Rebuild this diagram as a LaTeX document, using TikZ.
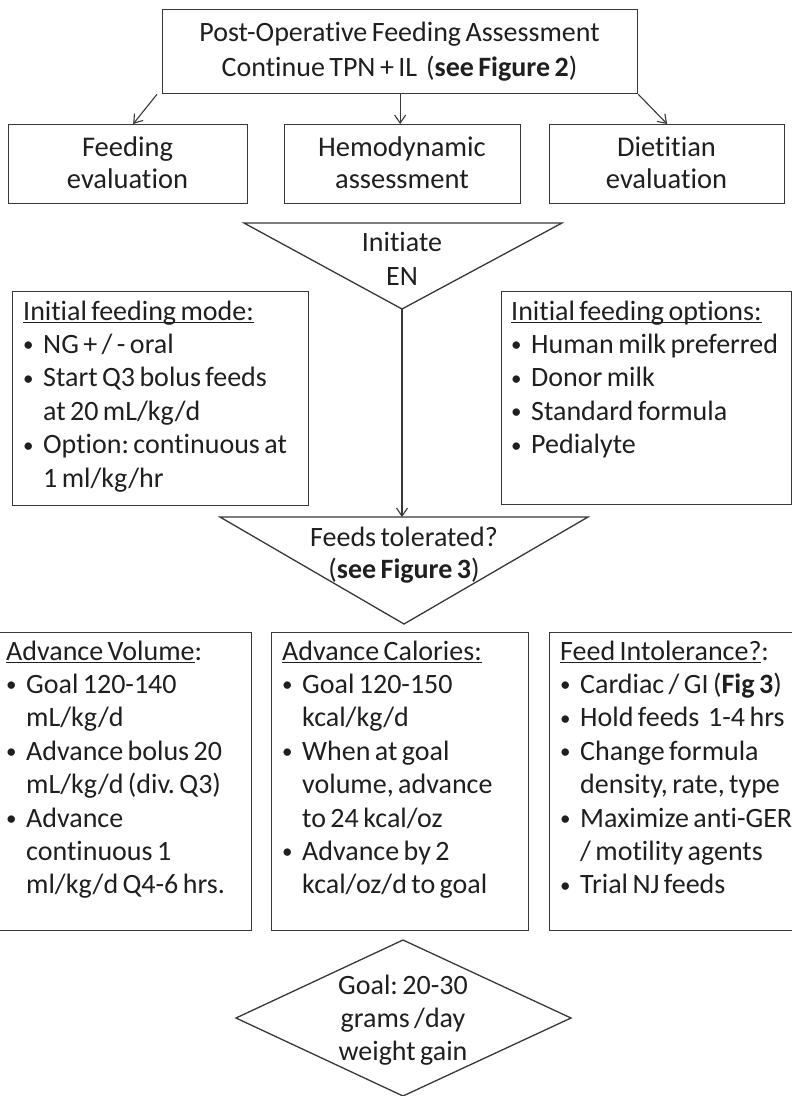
\documentclass[tikz,border=0pt]{standalone}
\usepackage{fontspec}
\setmainfont{Carlito}[WordSpace=0.7, Ligatures=NoCommon]
\usetikzlibrary{arrows.meta}
\frenchspacing
\newcommand\ulx[1]{\setbox0=\hbox{#1}\rlap{\rule[-3pt]{\wd0}{1.1pt}}\box0}
\newcommand\bul{\makebox[20pt][l]{\raisebox{1.5pt}{\fontsize{21}{21}\selectfont •}}}
\newcommand\cnt{\hspace*{20pt}}
\newcommand\fsz{\fontsize{28}{33.4}\selectfont}
\begin{document}
\begin{tikzpicture}[x=1pt,y=-1pt,
  line/.style={draw=black!78, line width=1.3pt},
  box/.style={line, rectangle, inner sep=0pt, anchor=north west},
  txt/.style={inner sep=0pt, font=\fsz, text=black!88},
  list/.style={txt, align=left, anchor=base west},
  ctr/.style={txt, align=center, anchor=base},
  arr/.style={draw=black!78, line width=1.1pt, -{Straight Barb[length=8pt,width=11pt]}}
]
\useasboundingbox (0,0) rectangle (792,1096);
\fill[white] (0,0) rectangle (792,1096);

% boxes
\node[box, minimum width=475pt, minimum height=84pt] (top) at (162,9) {};
\node[box, minimum width=239pt, minimum height=79pt] (feed) at (8,124) {};
\node[box, minimum width=236pt, minimum height=79pt] (hemo) at (284,124) {};
\node[box, minimum width=235pt, minimum height=79pt] (diet) at (549,124) {};
\node[box, minimum width=296pt, minimum height=214pt] (mode) at (12,291) {};
\node[box, minimum width=290pt, minimum height=213pt] (opts) at (501,291) {};
\node[box, minimum width=256pt, minimum height=298pt] (vol) at (-5,632) {};
\node[box, minimum width=257pt, minimum height=298pt] (cal) at (271,632) {};
\node[box, minimum width=260pt, minimum height=298pt] (intol) at (549,632) {};

% triangles and diamond
\coordinate (t1a) at (244,223);
\coordinate (t1b) at (562,223);
\coordinate (t1c) at (402,309);
\coordinate (t2a) at (220,517);
\coordinate (t2b) at (588,517);
\coordinate (t2c) at (404,624);
\draw[line, line join=miter] (t1a) -- (t1b) -- (t1c) -- cycle;
\draw[line, line join=miter] (t2a) -- (t2b) -- (t2c) -- cycle;
\coordinate (dn) at (403,940);
\coordinate (dw) at (236,1018);
\coordinate (de) at (571,1018);
\coordinate (ds) at (403,1096);
\draw[line, line join=miter] (dn) -- (de) -- (ds) -- (dw) -- cycle;

% texts (anchor base = baseline of the last line)
\node[ctr, font=\fontsize{28}{35}\selectfont] (toptxt) at (399.5,76)
  {Post-Operative Feeding Assessment\\Continue TPN + IL\ \ (\textbf{see Figure 2})};
\node[ctr, font=\fontsize{28.5}{32}\selectfont] (feedtxt) at (127.5,188) {Feeding\\evaluation};
\node[ctr, font=\fontsize{28.5}{32}\selectfont] (hemotxt) at (402,188) {Hemodynamic\\assessment};
\node[ctr, font=\fontsize{28.5}{32}\selectfont] (diettxt) at (666.5,188) {Dietitian\\evaluation};
\node[ctr, font=\fontsize{28}{34}\selectfont] (initxt) at (402,285) {Initiate\\EN};
\node[ctr, font=\fontsize{28}{32.5}\selectfont] (toltxt) at (404,578.5) {Feeds tolerated?\\(\textbf{see Figure 3})};
\node[ctr, font=\fontsize{28}{33}\selectfont] (goaltxt) at (403,1060) {Goal: 20-30\\grams /day\\weight gain};

\node[list] (modetxt) at (23,487) {\ulx{Initial feeding mode:}\\
\bul NG + / - oral\\
\bul Start Q3 bolus feeds\\
\cnt at 20 mL/kg/d\\
\bul Option: continuous at\\
\cnt 1 ml/kg/hr};

\node[list] (optstxt) at (511,453.6) {\ulx{Initial feeding options:}\\
\bul Human milk preferred\\
\bul Donor milk\\
\bul Standard formula\\
\bul Pedialyte};

\node[list] (voltxt) at (6,893.8) {\ulx{Advance Volume}:\\
\bul Goal 120-140\\
\cnt mL/kg/d\\
\bul Advance bolus 20\\
\cnt mL/kg/d (div. Q3)\\
\bul Advance\\
\cnt continuous 1\\
\cnt ml/kg/d Q4-6 hrs.};

\node[list] (caltxt) at (282,893.8) {\ulx{Advance Calories:}\\
\bul Goal 120-150\\
\cnt kcal/kg/d\\
\bul When at goal\\
\cnt volume, advance\\
\cnt to 24 kcal/oz\\
\bul Advance by 2\\
\cnt kcal/oz/d to goal};

\node[list] (intoltxt) at (560,893.8) {\ulx{Feed Intolerance?}:\\
\bul Cardiac / GI (\textbf{Fig 3})\\
\bul Hold feeds\ \ 1-4 hrs\\
\bul Change formula\\
\cnt density, rate, type\\
\bul Maximize anti-GER\\
\cnt / motility agents\\
\bul Trial NJ feeds};

% connectors
\draw[arr] ([xshift=-5pt]top.south west) -- ([xshift=5pt]feed.north);
\draw[arr] (top.south) -- (top.south |- hemo.north);
\draw[arr] (top.south east) -- (diet.north);
\draw[arr] (t1c) -- (t1c |- t2a);
\end{tikzpicture}
\end{document}
